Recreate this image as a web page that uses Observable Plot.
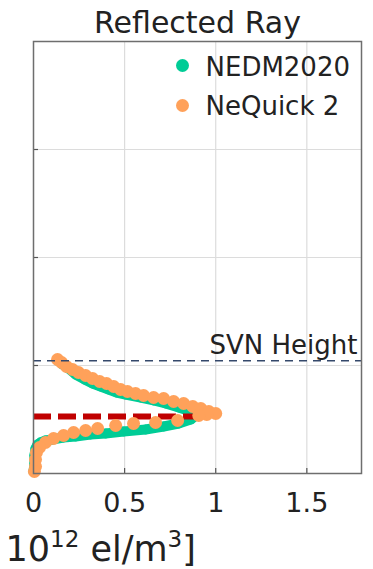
<!DOCTYPE html>
<html>
<head>
<meta charset="utf-8">
<script src="https://cdn.jsdelivr.net/npm/d3@7"></script>
<script src="https://cdn.jsdelivr.net/npm/@observablehq/plot@0.6"></script>
<style>
  html, body { margin: 0; padding: 0; background: #fff; }
  #chart svg { display: block; font-family: "DejaVu Sans", Verdana, sans-serif; }
</style>
</head>
<body>
<div id="chart"></div>
<script>
const titleText = "Reflected Ray";
// x-axis label pieces: [text, isSuperscript]
const xLabelParts = [["10", false], ["12", true], [" el/m", false], ["3", true], ["]", false]];
const seriesNames = ["NEDM2020", "NeQuick 2"];
const seriesColors = ["#00cc96", "#ffa15a"];
const xTicks = [0, 0.5, 1, 1.5];
const yTicks = [0, 20000, 40000, 60000, 80000];
const svnLabel = "SVN Height";
const svnHeight = 20900;
const peakHeight = 10560;
const peakDensity = 0.89;

// NEDM2020 profile along the reflected ray (density 1e12 el/m3, height)
const nedmX = [0.132,0.159,0.192,0.231,0.280,0.324,0.368,0.412,0.456,0.505,0.588,0.659,0.725,0.797,0.863,0.890,
               0.863,0.797,0.714,0.615,0.495,0.396,0.313,0.231,0.165,0.104,0.066,0.038,0.022,0.011,0.005,0.005,0.000];
const nedmY = [20930,20190,19440,18330,17410,16670,16110,15560,15000,14630,14070,13520,12960,12220,11480,10740,
               10000,9260,8700,8150,7780,7410,7220,6850,6670,6300,6110,5740,5370,4630,3330,1850,370];

// NeQuick 2 profile
const nqX = [0.132,0.154,0.181,0.214,0.247,0.286,0.324,0.363,0.401,0.440,0.478,0.516,0.560,0.604,0.659,0.714,0.769,0.824,0.874,0.918,0.962,1.000,
             0.951,0.907,0.791,0.670,0.549,0.451,0.352,0.286,0.220,0.165,0.110,0.066,0.033,0.016,0.011,0.011,0.005];
const nqY = [21110,20560,19810,19260,18700,18150,17590,17040,16670,16110,15560,15190,14810,14440,14070,13890,13330,12960,12410,12040,11480,11110,
             10930,10740,9810,9440,9260,8890,8330,7960,7590,7040,6480,5740,4810,3890,2590,1300,370];

const nedm = nedmX.map((x, i) => ({x, y: nedmY[i]}));
const nq = nqX.map((x, i) => ({x, y: nqY[i]}));

const W = 373, H = 569;
const mL = 33, mR = 12, mT = 41, mB = 96;
const fw = W - mL - mR, fh = H - mT - mB;

const plot = Plot.plot({
  width: W, height: H,
  marginLeft: mL, marginRight: mR, marginTop: mT, marginBottom: mB,
  style: {fontFamily: "DejaVu Sans, Verdana, sans-serif", background: "#fff", color: "#222"},
  x: {domain: [0, 1.8], axis: null},
  y: {domain: [0, 80000], axis: null},
  marks: [
    Plot.gridX(xTicks.slice(1), {stroke: "#dcdcdc", strokeOpacity: 1, strokeWidth: 1.2}),
    Plot.gridY(yTicks.slice(1, -1), {stroke: "#dcdcdc", strokeOpacity: 1, strokeWidth: 1.2}),
    Plot.tickX(xTicks.slice(1), {x: d => d, stroke: "#555", strokeWidth: 1.2, insetTop: fh - 5}),
    Plot.tickY(yTicks.slice(1, -1), {y: d => d, stroke: "#555", strokeWidth: 1.2, insetRight: fw - 5}),
    Plot.axisX(xTicks, {tickSize: 0, tickPadding: 19, fontSize: 27, fill: "#222", label: null, tickFormat: d => String(d)}),
    Plot.line(nedm, {x: "x", y: "y", stroke: seriesColors[0], strokeWidth: 10, strokeLinecap: "round", strokeLinejoin: "round"}),
    Plot.dot(nedm, {x: "x", y: "y", r: 5, fill: seriesColors[0]}),
    Plot.ruleY([peakHeight], {x1: 0, x2: peakDensity, stroke: "#c00000", strokeWidth: 6, strokeDasharray: "18,7"}),
    Plot.dot(nq, {x: "x", y: "y", r: 6.5, fill: seriesColors[1]}),
    Plot.ruleY([svnHeight], {stroke: "#34486b", strokeWidth: 1.5, strokeDasharray: "8,6"}),
    Plot.text([svnLabel], {frameAnchor: "right", y: () => svnHeight, text: d => d, textAnchor: "end", lineAnchor: "bottom", dx: -4, dy: -7, fontSize: 26, fill: "#222"}),
    Plot.frame({stroke: "#6e6e6e", strokeWidth: 1.5}),
    Plot.text([titleText], {frameAnchor: "top", text: d => d, lineAnchor: "bottom", dy: -9, fontSize: 30, fill: "#222"}),
    ...seriesNames.map((s, i) => Plot.dot([s], {frameAnchor: "top-left", dx: 149, dy: 24 + 40 * i, r: 6.5, fill: seriesColors[i]})),
    ...seriesNames.map((s, i) => Plot.text([s], {frameAnchor: "top-left", text: d => d, textAnchor: "start", lineAnchor: "bottom", dx: 172, dy: 34 + 39 * i, fontSize: 26, fill: "#222"})),
    Plot.text(["xlabel"], {frameAnchor: "bottom-left", text: d => d, textAnchor: "start", lineAnchor: "bottom", dx: -28, dy: 87, fontSize: 35, fill: "#222", className: "xlab"})
  ]
});
// rebuild the axis label with real superscripts
const lab = d3.select(plot).select("g.xlab text");
lab.text(null);
xLabelParts.forEach(([t, sup], i) => {
  const prevSup = i > 0 && xLabelParts[i - 1][1];
  const ts = lab.append("tspan").text(t);
  if (sup) ts.attr("font-size", 23).attr("dy", -14);
  else if (prevSup) ts.attr("dy", 14);
});
document.getElementById("chart").appendChild(plot);
</script>
</body>
</html>
